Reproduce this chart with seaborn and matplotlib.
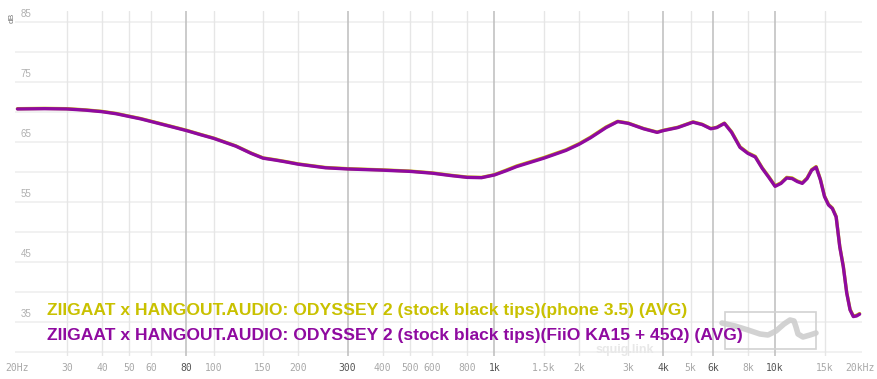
import numpy as np
import pandas as pd
import matplotlib
matplotlib.use("Agg")
import matplotlib.pyplot as plt
import seaborn as sns
from matplotlib.lines import Line2D
from matplotlib.patches import Rectangle

# ---------------- data ----------------
freqs = [20, 25, 30, 35, 40, 45, 50, 55, 60, 70, 80, 90, 100, 120, 136, 150, 165, 180,
         200, 250, 300, 400, 500, 600, 700, 800, 900, 1000, 1100, 1200, 1500, 1800,
         2000, 2200, 2500, 2750, 3000, 3400, 3800, 4000, 4500, 5100, 5500, 5900, 6200,
         6600, 7000, 7500, 8000, 8500, 9000, 9500, 10000, 10500, 11000, 11500, 12000,
         12500, 13000, 13500, 14000, 14500, 15000, 15500, 16000, 16500, 17000, 17500,
         18000, 18500, 19000, 19500, 20000]

purple_db = [70.5, 70.55, 70.5, 70.3, 70.05, 69.7, 69.25, 68.85, 68.4, 67.6, 66.9, 66.2,
             65.6, 64.3, 63.1, 62.3, 62.0, 61.7, 61.3, 60.7, 60.5, 60.3, 60.1, 59.8, 59.4,
             59.1, 59.05, 59.5, 60.2, 60.9, 62.3, 63.6, 64.6, 65.7, 67.4, 68.4, 68.1, 67.2,
             66.6, 66.9, 67.4, 68.3, 67.9, 67.2, 67.4, 68.1, 66.6, 64.1, 63.1, 62.5, 60.6,
             59.1, 57.6, 58.1, 59.0, 58.9, 58.4, 58.1, 58.9, 60.3, 60.8, 58.7, 55.9, 54.5,
             53.9, 52.5, 47.5, 44.2, 39.8, 37.0, 35.9, 36.0, 36.3]

yellow_db = [70.55, 70.6, 70.55, 70.35, 70.1, 69.75, 69.3, 68.9, 68.45, 67.65, 66.95, 66.25,
             65.65, 64.35, 63.15, 62.35, 62.05, 61.75, 61.35, 60.75, 60.55, 60.35, 60.15, 59.85,
             59.45, 59.15, 59.1, 59.55, 60.3, 61.0, 62.4, 63.7, 64.7, 65.8, 67.5, 68.45, 68.15,
             67.25, 66.65, 66.95, 67.45, 68.35, 67.95, 67.25, 67.45, 68.15, 66.7, 64.2, 63.2,
             62.6, 60.7, 59.2, 57.7, 58.2, 59.1, 59.0, 58.5, 58.2, 59.0, 60.4, 60.9, 58.8,
             56.0, 54.6, 54.0, 52.6, 47.6, 44.3, 39.9, 37.1, 36.0, 36.1, 36.4]

series_names = ["ZIIGAAT x HANGOUT.AUDIO: ODYSSEY 2 (stock black tips)(phone 3.5) (AVG)",
                "ZIIGAAT x HANGOUT.AUDIO: ODYSSEY 2 (stock black tips)(FiiO KA15 + 45\u03a9) (AVG)"]
series_colors = ["#c9c100", "#8f0aa0"]

xtick_vals = [20, 30, 40, 50, 60, 80, 100, 150, 200, 300, 400, 500, 600, 800, 1000, 1500,
              2000, 3000, 4000, 5000, 6000, 8000, 10000, 15000, 20000]
xtick_labels = ["20Hz", "30", "40", "50", "60", "80", "100", "150", "200", "300", "400",
                "500", "600", "800", "1k", "1.5k", "2k", "3k", "4k", "5k", "6k", "8k", "10k",
                "15k", "20kHz"]
xtick_strong = [80, 300, 1000, 4000, 6000, 10000]
ygrid_vals = [30, 35, 40, 45, 50, 55, 60, 65, 70, 75, 80, 85]
ylabel_vals = [35, 45, 55, 65, 75, 85]

df = pd.concat([
    pd.DataFrame({"freq": freqs, "db": yellow_db, "series": series_names[0]}),
    pd.DataFrame({"freq": freqs, "db": purple_db, "series": series_names[1]}),
])

# ---------------- figure ----------------
sns.set_style("white")
plt.rcParams["font.family"] = ["Liberation Sans", "DejaVu Sans"]

W, H = 877, 379
fig = plt.figure(figsize=(W / 100, H / 100), dpi=100)
ax = fig.add_axes([15 / W, 1 - 356 / H, 847 / W, 345 / H])
ax.set_xscale("log")
ax.set_xlim(19.6, 20400)
ax.set_ylim(29.33, 86.83)

# grid
for v in ygrid_vals:
    ax.axhline(v, color="#eeeeee", lw=1.1, zorder=0)
for v in xtick_vals[1:-1]:
    strong = v in xtick_strong
    ax.axvline(v, color="#bdbdbd" if strong else "#e6e6e6", lw=1.1 if strong else 1.0, zorder=0)

sns.lineplot(data=df, x="freq", y="db", hue="series", palette=series_colors,
             lw=2.4, ax=ax, legend=False, sort=False, estimator=None)

for s in ax.spines.values():
    s.set_visible(False)
ax.set_xlabel("")
ax.set_ylabel("")
ax.set_xticks(xtick_vals)
ax.set_xticklabels(xtick_labels)
ax.xaxis.set_minor_locator(matplotlib.ticker.NullLocator())
ax.set_yticks([])
ax.tick_params(axis="x", length=0, pad=5, labelsize=7, labelcolor="#a8a8a8")
for lab, v in zip(ax.get_xticklabels(), xtick_vals):
    lab.set_family("DejaVu Sans Mono")
    if v in xtick_strong:
        lab.set_color("#555555")

# y labels inside
tr = matplotlib.transforms.blended_transform_factory(ax.transAxes, ax.transData)
for v in ylabel_vals:
    ax.text(0.007, v + 0.45, str(v), transform=tr, fontsize=7, color="#b0b0b0",
            ha="left", va="bottom")
fig.text(12 / W, 1 - 18 / H, "dB", rotation=90, fontsize=6, color="#777777",
         ha="center", va="center")

# watermark
fig.text(625 / W, 1 - 350 / H, "squig.link", fontsize=9, color="#e8e8e8",
         ha="center", va="center", fontweight="bold")
fig.add_artist(Rectangle((725 / W, 1 - 349 / H), 91 / W, 37 / H, transform=fig.transFigure,
                         fill=False, ec="#d2d2d2", lw=1.2))
wx = np.array([722, 735, 748, 760, 768, 776, 784, 790, 794, 796, 798, 803, 810, 816])
wy = np.array([323, 326, 330, 334, 335, 331, 324, 320, 321, 327, 334, 337, 335, 333])
fig.add_artist(Line2D(wx / W, 1 - wy / H, transform=fig.transFigure, color="#cdcdcd",
                      lw=4.0, solid_capstyle="round", solid_joinstyle="round", alpha=0.9))

# legend texts
for i, (name, col) in enumerate(zip(series_names, series_colors)):
    fig.text(47 / W, 1 - (311 + 24.5 * i) / H, name, color=col, fontsize=12.6,
             fontweight="bold", ha="left", va="center")

fig.savefig("out.png", dpi=100)
